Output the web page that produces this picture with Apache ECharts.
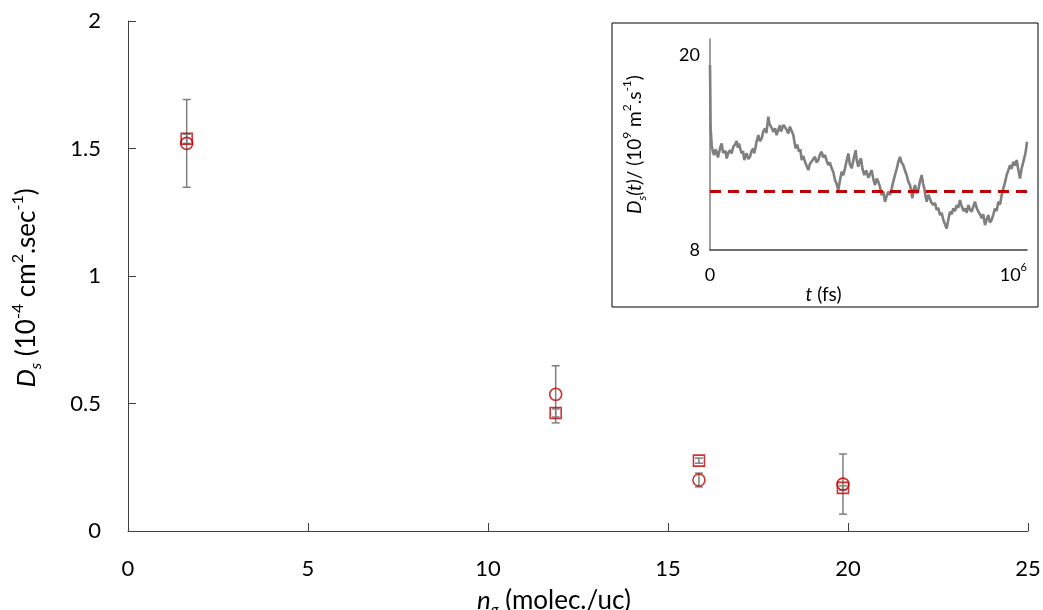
<!DOCTYPE html>
<html><head><meta charset="utf-8">
<script src="https://cdn.jsdelivr.net/npm/echarts@6/dist/echarts.min.js"></script>
<style>html,body{margin:0;padding:0;background:#fff}#c{width:1043px;height:610px}</style>
</head><body><div id="c"></div>
<script>
// ---- main panel data ----
const loadings    = [1.63, 11.88, 15.86, 19.86];
const dsCircle    = [1.52, 0.536, 0.200, 0.184];
const dsCircleErr = [0.172, 0.112, 0.027, 0.118];
const dsSquare    = [1.538, 0.463, 0.276, 0.169];
const dsSquareErr = [0.018, 0.016, 0.010, 0.008];
// ---- inset data: t (fs), Ds(t) (1e9 m2/s) ----
const insetCurve = [
 [0,19.4],[2000,15.5],[5300,14.46],[9500,14.0],[13700,13.85],[17000,14.2],[21000,14.05],[25000,13.7],[28400,13.74],
 [32000,14.3],[36800,14.56],[41000,14.0],[45200,13.95],[49000,14.1],[52600,13.64],[58000,14.0],[63100,14.15],
 [68000,13.95],[73600,14.36],[79000,14.5],[84100,14.71],[88000,14.3],[91500,14.56],[96000,14.2],[99900,13.95],
 [104000,14.1],[108300,13.54],[112000,13.8],[115700,13.95],[121000,13.6],[126200,13.74],[131000,14.1],[136700,14.26],
 [139000,13.95],[142000,14.15],[147000,14.7],[152500,15.08],[157000,14.7],[163000,14.87],[168000,15.3],[173500,15.49],
 [178000,15.2],[184000,16.21],[187000,15.8],[191400,15.90],[195000,15.5],[199800,15.28],[205000,15.5],[210300,15.08],
 [215000,15.4],[220800,15.69],[224000,15.3],[228200,15.38],[232000,15.7],[236600,15.79],[242000,15.4],[247100,15.18],
 [252000,15.6],[257600,15.49],[262900,15.08],[266000,14.7],[270200,14.26],[275000,14.5],[280800,14.05],[285000,14.2],
 [289200,13.54],[294000,13.8],[299700,13.44],[305000,13.5],[310200,12.92],[315000,13.3],[320700,13.33],[326000,13.6],
 [331200,13.74],[336000,13.4],[341700,13.54],[347000,13.9],[352300,14.05],[357000,13.7],[362800,13.85],[368000,13.5],
 [373300,13.23],[378000,13.4],[383800,13.03],[389000,12.8],[394300,12.31],[399000,12.1],[404800,11.69],[410000,12.3],
 [415400,12.82],[420000,12.6],[425900,13.03],[431000,13.5],[436400,13.95],[441000,13.3],[446900,13.03],[453000,13.6],
 [459500,14.15],[463000,13.5],[467900,13.13],[472000,13.5],[476300,13.64],[481000,13.0],[486800,12.62],[493000,12.9],
 [499500,12.45],[505000,12.7],[510000,12.92],[515000,12.4],[520500,12.0],[526000,12.4],[531000,12.2],[536000,11.9],
 [541500,11.38],[547000,11.6],[552000,10.97],[557000,11.3],[562600,11.59],[568000,11.4],[573100,11.79],[578000,12.2],
 [583600,12.62],[589000,13.0],[594100,13.44],[599400,13.74],[604000,13.4],[609900,13.23],[615000,12.9],[620400,12.62],
 [626000,12.2],[630900,12.0],[635000,11.6],[638300,11.18],[642000,11.7],[646700,12.0],[652000,11.5],[657200,11.69],
 [662000,12.2],[667700,12.62],[672000,12.1],[676100,11.79],[680000,11.3],[683500,10.97],[689000,11.4],[694000,11.28],
 [699000,10.9],[704500,10.77],[710000,10.9],[715000,10.46],[720000,10.6],[725600,10.15],[731000,10.3],[736100,9.85],
 [741000,9.9],[746600,9.33],[752000,9.9],[757100,10.36],[762000,10.2],[767600,10.56],[773000,10.4],[778100,10.77],
 [783000,10.6],[788600,11.08],[792000,10.8],[796000,10.77],[800000,10.4],[804400,10.56],[810000,10.3],[814900,10.77],
 [820000,10.5],[825400,10.36],[831000,10.7],[836000,10.97],[841000,10.6],[846500,10.36],[852000,10.2],[857000,9.95],
 [862000,10.2],[867500,9.54],[873000,9.9],[878000,10.15],[883000,9.7],[888500,9.85],[894000,10.2],[899000,10.56],
 [904000,10.4],[909600,10.97],[915000,10.8],[920100,11.38],[925300,11.79],[930000,12.1],[935800,12.62],[941000,12.9],
 [946400,13.23],[951000,13.0],[956900,13.44],[962000,13.2],[967400,13.54],[972000,13.0],[977900,12.41],[983200,13.03],
 [988000,13.4],[993700,13.85],[997000,14.2],[1000000,14.67]
];
const insetMeanLevel = 11.6;
const insetTMax = 1000000;

const FONT = 'Lato, "Liberation Sans", sans-serif';
const RED = '#c00000';
const GREY = '#7f7f7f';

function richSet(size){
  const s = Math.round(size*0.62);
  return {
    n:{fontSize:size,fontFamily:FONT,color:'#000',lineHeight:size+8},
    i:{fontSize:size,fontFamily:FONT,fontStyle:'italic',color:'#000',lineHeight:size+8},
    sup:{fontSize:s,fontFamily:FONT,color:'#000',verticalAlign:'top',lineHeight:s},
    sub:{fontSize:s,fontFamily:FONT,fontStyle:'italic',color:'#000',verticalAlign:'bottom',lineHeight:s}
  };
}

function errBarSeries(vals, errs, z){
  return {
    type:'custom', xAxisIndex:0, yAxisIndex:0, z:z, silent:true,
    data: loadings.map((x,i)=>[x, vals[i]-errs[i], vals[i]+errs[i]]),
    renderItem:function(params, api){
      const lo = api.coord([api.value(0), api.value(1)]);
      const hi = api.coord([api.value(0), api.value(2)]);
      const w = 4;
      const st = {stroke:GREY, lineWidth:1.5};
      return {type:'group', children:[
        {type:'line', shape:{x1:lo[0],y1:lo[1],x2:hi[0],y2:hi[1]}, style:st},
        {type:'line', shape:{x1:lo[0]-w,y1:lo[1],x2:lo[0]+w,y2:lo[1]}, style:st},
        {type:'line', shape:{x1:hi[0]-w,y1:hi[1],x2:hi[0]+w,y2:hi[1]}, style:st}
      ]};
    }
  };
}

const chart = echarts.init(document.getElementById('c'), null, {renderer:'canvas'});
chart.setOption({
  animation:false,
  backgroundColor:'#fff',
  graphic:[{type:'rect', shape:{x:612,y:23,width:426,height:284}, style:{fill:'none', stroke:'#000', lineWidth:1}}],
  grid:[
    {left:128, right:15, top:21, bottom:79, containLabel:false, outerBoundsMode:'none'},
    {left:710, right:16, top:39, bottom:360, containLabel:false, outerBoundsMode:'none'}
  ],
  xAxis:[
    {type:'value', gridIndex:0, min:0, max:25, interval:5,
     axisLine:{lineStyle:{color:'#404040', width:1}},
     axisTick:{inside:true, length:8, lineStyle:{color:'#404040'}},
     splitLine:{show:false},
     axisLabel:{fontSize:22, fontFamily:FONT, color:'#000', margin:27},
     name:'{i|n}{sub|g}{n| (molec./uc)}', nameLocation:'middle', nameGap:53,
     nameTextStyle:{rich:richSet(26), padding:[0,48,0,0]}
    },
    {type:'value', gridIndex:1, min:0, max:insetTMax, interval:insetTMax,
     axisLine:{lineStyle:{color:'#404040', width:1.5}},
     axisTick:{show:false}, splitLine:{show:false},
     axisLabel:{fontSize:18, fontFamily:FONT, color:'#000', margin:12, alignMaxLabel:'right',
       formatter:v=> v===0 ? '{n|0}' : '{n|10}{sup|6}', rich:richSet(18)},
     name:'{i|t}{n| (fs)}', nameLocation:'middle', nameGap:30,
     nameTextStyle:{rich:richSet(19), padding:[0,90,0,0]}
    }
  ],
  yAxis:[
    {type:'value', gridIndex:0, min:0, max:2, interval:0.5,
     axisLine:{show:true, lineStyle:{color:'#404040', width:1}},
     axisTick:{show:true, inside:true, length:8, lineStyle:{color:'#404040'}},
     splitLine:{show:false},
     axisLabel:{fontSize:22, fontFamily:FONT, color:'#000', margin:27},
     name:'{i|D}{sub|s}{n| (10}{sup|-4}{n| cm}{sup|2}{n|.sec}{sup|-1}{n|)}',
     nameLocation:'middle', nameGap:84,
     nameTextStyle:{rich:richSet(26), padding:[0,24,0,0]}
    },
    {type:'value', gridIndex:1, min:8, max:21, interval:12,
     axisLine:{show:true, lineStyle:{color:GREY, width:1.5}},
     axisTick:{show:false}, splitLine:{show:false},
     axisLabel:{fontSize:18, fontFamily:FONT, color:'#000', margin:10,
       formatter:v=> (v===8||v===20) ? String(v) : ''},
     name:'{i|D}{sub|s}{i|(t)}{n|/ (10}{sup|9}{n| m}{sup|2}{n|.s}{sup|-1}{n|)}',
     nameLocation:'middle', nameGap:62,
     nameTextStyle:{rich:richSet(19)}
    }
  ],
  series:[
    errBarSeries(dsCircle, dsCircleErr, 2),
    errBarSeries(dsSquare, dsSquareErr, 3),
    {type:'scatter', xAxisIndex:0, yAxisIndex:0, z:4, symbol:'circle', symbolSize:12,
     data: loadings.map((x,i)=>[x, dsCircle[i]]),
     itemStyle:{color:'rgba(0,0,0,0)', borderColor:RED, borderWidth:1.6}},
    {type:'scatter', xAxisIndex:0, yAxisIndex:0, z:5, symbol:'rect', symbolSize:11,
     data: loadings.map((x,i)=>[x, dsSquare[i]]),
     itemStyle:{color:'rgba(0,0,0,0)', borderColor:RED, borderWidth:1.6}},
    {type:'line', xAxisIndex:1, yAxisIndex:1, showSymbol:false, z:3,
     data: insetCurve, lineStyle:{color:GREY, width:2.6}},
    {type:'line', xAxisIndex:1, yAxisIndex:1, showSymbol:false, z:4,
     data: [[0, insetMeanLevel],[insetTMax, insetMeanLevel]],
     lineStyle:{color:RED, width:3, type:[11,7]}}
  ]
});
</script></body></html>
